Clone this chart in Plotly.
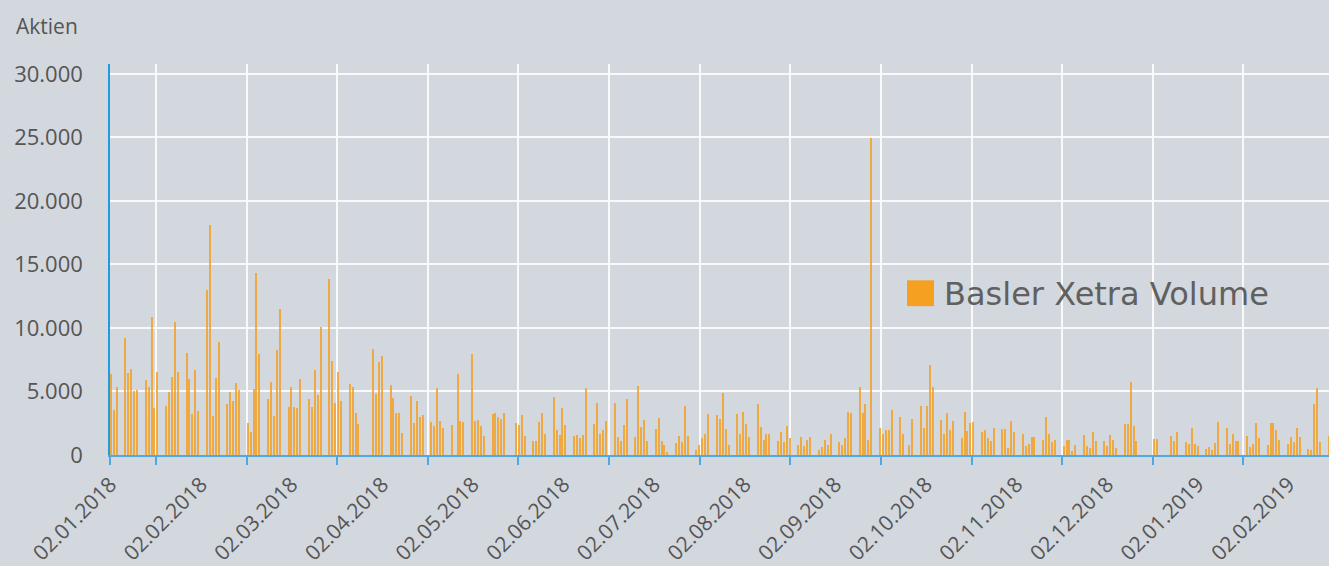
import pandas as pd
import plotly.graph_objects as go

# ---- data ----
holidays = ["2018-03-30", "2018-04-02", "2018-05-01", "2018-05-21", "2018-10-03",
            "2018-12-24", "2018-12-25", "2018-12-26", "2018-12-31", "2019-01-01"]
first_day = "2018-01-03"
last_day = "2019-02-25"

volume = [
    # Jan 2018
    6410, 3530, 5370, 9240, 6490, 6800, 5030, 5080, 5920, 5370, 10890, 3670, 6570,
    3820, 4950, 6180, 10500, 6570, 8060, 6020, 3190,
    # Feb 2018
    6730, 3460, 12960, 18140, 3090, 6100, 8930, 3980, 4950, 4290, 5630, 5080,
    2490, 1780, 5160, 14350, 7960, 4400, 5710, 3040,
    # Mar 2018
    8270, 11520, 3770, 5340, 3740, 3670, 6020, 4400, 3800, 6730, 4740, 10110,
    13880, 7410, 4110, 6540, 4220, 5600, 5390, 3320, 2410,
    # Apr 2018
    8350, 4840, 7360, 7780, 5500, 4480, 3300, 3300, 1730, 4610, 2510, 4240, 3010, 3170,
    2590, 2280, 5240, 2670, 2120, 2380,
    # May 2018
    6360, 2640, 2590, 7930, 2700, 2780, 2280, 1490, 3250, 3320, 3010, 2830, 3300,
    2510, 2330, 3120, 1490, 1070, 1070, 2570, 3270,
    # Jun 2018
    1680, 4580, 1940, 1600, 3690, 2360, 1470, 1600, 1340, 1600, 5260,
    2430, 4080, 1620, 1940, 2640, 4080, 1410, 1100, 2360, 4420,
    # Jul 2018
    1440, 5450, 2170, 2720, 1070, 2040, 2910, 1100, 760, 240, 920, 1490, 1020, 3850, 1490,
    420, 790, 1340, 1620, 3220, 3120, 2830,
    # Aug 2018
    4870, 2040, 810, 3220, 1650, 3380, 2410, 1390, 3980, 2230, 1200, 1680, 1650,
    1100, 1810, 1020, 2250, 1340, 790, 1400, 700, 1200, 1430,
    # Sep 2018
    390, 650, 1170, 755, 1640, 1040, 780, 1350, 3390, 3330,
    5340, 3310, 3980, 1170, 24950, 2110, 1640, 1930, 1930, 3540,
    # Oct 2018
    3020, 1640, 780, 2860, 3880, 2160, 3880, 7110, 5360, 2780, 1660, 3340, 1940, 2670,
    1310, 3380, 1880, 2540, 2590, 1780, 1960, 1340,
    # Nov 2018
    1100, 2090, 2040, 2040, 550, 2640, 1810, 1620, 710, 860, 1440, 1410,
    1150, 2980, 1620, 1050, 1150, 710, 1200, 1180, 310, 790,
    # Dec 2018
    1600, 710, 520, 1830, 1070, 1100, 730, 1570, 1180, 580,
    2430, 2430, 5730, 2300, 1070, 1260, 1260,
    # Jan 2019
    1470, 1130, 1780, 1020, 860, 2120, 860, 710, 470, 600, 370, 950, 2590,
    2090, 870, 1650, 1100, 1070, 1490, 630, 890, 2510,
    # Feb 2019
    1340, 760, 2490, 2490, 1960, 1150, 840, 1410, 1020, 2120, 1410,
    470, 390, 4010, 5240, 990, 1470,
]

tick_labels = ["02.01.2018", "02.02.2018", "02.03.2018", "02.04.2018", "02.05.2018",
               "02.06.2018", "02.07.2018", "02.08.2018", "02.09.2018", "02.10.2018",
               "02.11.2018", "02.12.2018", "02.01.2019", "02.02.2019"]
y_ticks = [0, 5000, 10000, 15000, 20000, 25000, 30000]
y_tick_text = ["0", "5.000", "10.000", "15.000", "20.000", "25.000", "30.000"]
series_name = "Basler Xetra Volume"

# ---- build ----
days = pd.bdate_range(first_day, last_day)
days = days[~days.isin(pd.to_datetime(holidays))]
assert len(days) == len(volume), (len(days), len(volume))

base = pd.Timestamp(first_day)
step = 31.1
grid_vals = [base + pd.Timedelta(days=15.44 + step * k) for k in range(13)]
minor_vals = [base - pd.Timedelta(days=0.343)] + grid_vals
label_vals = [base + pd.Timedelta(days=step * k - 0.2) for k in range(len(tick_labels))]

x_range = [base - pd.Timedelta(days=0.343), base + pd.Timedelta(days=417.99)]

BG = "#d3d7de"
TXT = "#555555"
ORANGE = "rgb(244,160,32)"

fig = go.Figure()
fig.add_trace(go.Bar(
    x=days, y=volume, name=series_name,
    marker=dict(color=ORANGE, line=dict(width=0)),
    opacity=0.82,
    width=0.5 * 86400000,
    showlegend=False,
))

fig.update_layout(
    width=1329, height=566,
    margin=dict(l=110, r=0, t=64, b=108),
    paper_bgcolor=BG, plot_bgcolor=BG,
    font=dict(family="Open Sans", color=TXT),
    bargap=0,
    xaxis=dict(
        type="date", range=x_range,
        tickmode="array", tickvals=label_vals, ticktext=tick_labels,
        tickangle=-45, tickfont=dict(size=21, color=TXT),
        showgrid=False, ticks="", ticklabelstandoff=7,
        showline=True, linecolor="#4ea9e3", linewidth=2,
        zeroline=False,
        minor=dict(tickmode="array", tickvals=minor_vals, ticks="outside",
                   ticklen=8, tickwidth=2, tickcolor="#4ea9e3",
                   showgrid=True, gridcolor="rgba(255,255,255,0.85)", gridwidth=1.5),
    ),
    yaxis=dict(
        range=[0, 30781],
        tickmode="array", tickvals=y_ticks, ticktext=y_tick_text,
        tickfont=dict(size=22, color=TXT),
        showgrid=True, gridcolor="rgba(255,255,255,0.85)", gridwidth=1.5,
        showline=True, linecolor="#1f9be0", linewidth=1.5,
        zeroline=False, ticks="", ticklabelstandoff=21,
    ),
    annotations=[
        dict(text="Aktien", xref="paper", yref="paper", x=(14 - 110) / 1219,
             y=(458 - 26) / 394, xanchor="left", yanchor="middle", showarrow=False,
             font=dict(size=21, color=TXT, family="Open Sans")),
        dict(text=series_name, xref="paper", yref="paper", x=(942 - 110) / 1219,
             y=(458 - 296) / 394, xanchor="left", yanchor="middle", showarrow=False,
             font=dict(size=32, color="#606060", family="DejaVu Sans")),
    ],
    shapes=[
        dict(type="rect", xref="paper", yref="paper",
             x0=(907 - 110) / 1219, x1=(934 - 110) / 1219,
             y0=(458 - 308) / 394, y1=(458 - 282) / 394,
             fillcolor="#f5a020", line=dict(width=0)),
    ],
)

fig.write_html("out.html", config={"displayModeBar": False},
               post_script="document.body.style.margin='0';")
